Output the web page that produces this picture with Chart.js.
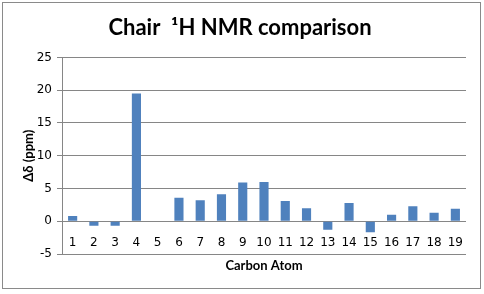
<!DOCTYPE html>
<html lang="en">
<head>
    <meta charset="UTF-8">
    <title>Chair 1H NMR comparison</title>
    <script src="https://cdn.jsdelivr.net/npm/chart.js"></script>
    <style>
        body {
            margin: 0;
            background: #ffffff;
        }
        .frame {
            position: absolute;
            left: 2px;
            top: 2px;
            width: 477px;
            height: 285px;
            border: 1px solid #8a8a8a;
        }
        canvas {
            position: absolute;
            left: 0;
            top: 0;
        }
    </style>
</head>
<body>
    <div class="frame"></div>
    <canvas id="nmrChart" width="484" height="294"></canvas>

    <script>
        const carbonAtoms = ["1", "2", "3", "4", "5", "6", "7", "8", "9", "10",
                             "11", "12", "13", "14", "15", "16", "17", "18", "19"];
        const deltaShift = [0.8, -0.7, -0.7, 19.5, 0, 3.6, 3.2, 4.1, 5.9, 6.0,
                            3.1, 2.0, -1.3, 2.8, -1.7, 1.0, 2.3, 1.3, 1.9];
        const yMin = -5;
        const yMax = 25;
        const yStep = 5;

        const gridGray = "#868686";
        const tickFont = { family: "DejaVu Sans", size: 12 };
        const axisTitleFont = { family: "Lato", size: 13, weight: "bold" };

        new Chart(document.getElementById("nmrChart").getContext("2d"), {
            type: "bar",
            data: {
                labels: carbonAtoms,
                datasets: [{
                    label: "Δδ",
                    data: deltaShift,
                    xAxisID: "x",
                    yAxisID: "y",
                    backgroundColor: "#4F81BD",
                    borderWidth: 0,
                    categoryPercentage: 1,
                    barPercentage: 0.43
                }]
            },
            options: {
                responsive: false,
                animation: false,
                layout: {
                    padding: { left: 4, right: 8, top: 4, bottom: 6 }
                },
                plugins: {
                    legend: { display: false },
                    tooltip: { enabled: false },
                    title: {
                        display: true,
                        text: "Chair  ¹H NMR comparison",
                        color: "#000000",
                        font: { family: "Lato", size: 22, weight: "bold" },
                        padding: { top: 11, bottom: 16 }
                    }
                },
                scales: {
                    x: {
                        type: "category",
                        position: "bottom",
                        grid: { display: false, drawTicks: false },
                        border: { display: false },
                        ticks: {
                            color: "#000000",
                            font: tickFont,
                            // mirrored labels are not clipped, so they can sit just under the zero line
                            mirror: true,
                            padding: 4,
                            maxRotation: 0,
                            autoSkip: false
                        },
                        title: {
                            display: true,
                            text: "Carbon Atom",
                            color: "#000000",
                            font: axisTitleFont,
                            padding: { top: 0, bottom: 14 }
                        },
                        afterFit: function (scale) {
                            scale.height = 34;
                        }
                    },
                    y: {
                        position: "left",
                        min: yMin,
                        max: yMax,
                        grid: {
                            display: true,
                            color: gridGray,
                            lineWidth: 1,
                            tickLength: 5
                        },
                        border: { display: true, color: gridGray },
                        ticks: {
                            stepSize: yStep,
                            color: "#000000",
                            font: tickFont,
                            padding: 5
                        },
                        title: {
                            display: true,
                            text: "Δδ (ppm)",
                            color: "#000000",
                            font: axisTitleFont,
                            padding: { top: 17, bottom: 4 }
                        },
                        afterFit: function (scale) {
                            scale.width = 58;
                        }
                    },
                    yPad: {
                        type: "linear",
                        position: "right",
                        grid: { display: false, drawTicks: false },
                        border: { display: false },
                        ticks: { display: false },
                        afterFit: function (scale) {
                            scale.width = 10;
                        }
                    }
                }
            }
        });
    </script>
</body>
</html>
